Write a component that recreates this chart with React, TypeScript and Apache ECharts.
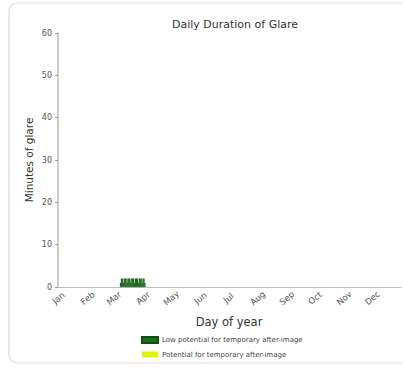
import React, { useEffect, useRef } from "react";
import * as echarts from "echarts";

const monthNames = ["Jan", "Feb", "Mar", "Apr", "May", "Jun", "Jul", "Aug", "Sep", "Oct", "Nov", "Dec"];
const monthStarts = [0, 31, 59, 90, 120, 151, 181, 212, 243, 273, 304, 334];
const yTicks = [0, 10, 20, 30, 40, 50, 60];
const glareStartDay = 66;
const lowPotentialMinutes = [1, 2, 2, 1, 2, 2, 2, 1, 2, 2, 2, 1, 2, 2, 2, 1, 2, 2, 2, 1, 2, 2, 2, 1, 2, 2, 1];
const potentialMinutes: number[] = [];

const FONT = "DejaVu Sans";

export default function App() {
  const ref = useRef<HTMLDivElement>(null);
  useEffect(() => {
    if (!ref.current) return;
    const chart = echarts.init(ref.current, null, { renderer: "svg" });
    const days = Array.from({ length: 365 }, (_, i) => String(i));
    const low = days.map(() => null as number | null);
    lowPotentialMinutes.forEach((v, i) => {
      low[glareStartDay + i] = v;
    });
    const pot = days.map(() => null as number | null);
    potentialMinutes.forEach((v, i) => {
      pot[glareStartDay + i] = v;
    });
    const isMonthStart = (idx: number) => monthStarts.includes(idx);
    chart.setOption({
      animation: false,
      backgroundColor: "#fff",
      title: {
        text: "Daily Duration of Glare",
        left: 230,
        textAlign: "center",
        top: 14,
        textStyle: { fontFamily: FONT, fontSize: 11, fontWeight: "normal", color: "#333" },
      },
      graphic: [
        {
          type: "rect",
          shape: { x: 9, y: 3, width: 420, height: 360, r: 8 },
          style: { fill: "none", stroke: "#dcdcdc", lineWidth: 1.2 },
          z: -1,
        },
        {
          type: "text",
          x: 29,
          y: 160,
          rotation: Math.PI / 2,
          style: {
            text: "Minutes of glare",
            fontFamily: FONT,
            fontSize: 10.5,
            fill: "#333",
            textAlign: "center",
            textVerticalAlign: "middle",
          },
        },
        {
          type: "text",
          x: 229,
          y: 322,
          style: {
            text: "Day of year",
            fontFamily: FONT,
            fontSize: 11.5,
            fill: "#333",
            textAlign: "center",
            textVerticalAlign: "middle",
          },
        },
      ],
      legend: {
        left: 136,
        top: 331,
        orient: "vertical",
        itemWidth: 16,
        itemHeight: 6,
        itemGap: 7,
        icon: "rect",
        textStyle: { fontFamily: FONT, fontSize: 7, color: "#444", padding: [0, 0, 0, -1] },
        data: ["Low potential for temporary after-image", "Potential for temporary after-image"],
      },
      grid: { left: 58, right: 2, top: 33, bottom: 87 },
      xAxis: {
        type: "category",
        data: days,
        boundaryGap: true,
        axisLine: { lineStyle: { color: "#bbb", width: 1.2 } },
        axisTick: {
          alignWithLabel: true,
          length: 3,
          interval: (idx: number) => isMonthStart(idx),
          lineStyle: { color: "#999" },
        },
        axisLabel: {
          interval: (idx: number) => isMonthStart(idx),
          formatter: (v: string) => monthNames[monthStarts.indexOf(Number(v))] ?? "",
          rotate: 40,
          align: "center",
          verticalAlign: "middle",
          fontFamily: FONT,
          fontSize: 8.5,
          color: "#555",
          margin: 11,
        },
        splitLine: { show: false },
      },
      yAxis: {
        type: "value",
        min: 0,
        max: 60,
        interval: 10,
        axisLine: { show: true, lineStyle: { color: "#bbb", width: 1.5 } },
        axisTick: { show: true, length: 3, lineStyle: { color: "#999" } },
        axisLabel: {
          fontFamily: FONT,
          fontSize: 8,
          color: "#555",
          margin: 6,
          formatter: (v: number) => (yTicks.includes(v) ? String(v) : ""),
        },
        splitLine: { show: false },
      },
      series: [
        {
          name: "Low potential for temporary after-image",
          type: "bar",
          stack: "glare",
          data: low,
          barCategoryGap: "0%",
          barWidth: 1.2,
          itemStyle: { color: "#1b6e1b", borderColor: "#0f4f0f", borderWidth: 0.3 },
        },
        {
          name: "Potential for temporary after-image",
          type: "bar",
          stack: "glare",
          data: pot,
          barWidth: 1.2,
          itemStyle: { color: "#e1f500" },
        },
      ],
    });
    return () => chart.dispose();
  }, []);
  return (
    <div
      ref={ref}
      style={{ position: "fixed", left: 0, top: 0, width: 403, height: 374 }}
    />
  );
}
